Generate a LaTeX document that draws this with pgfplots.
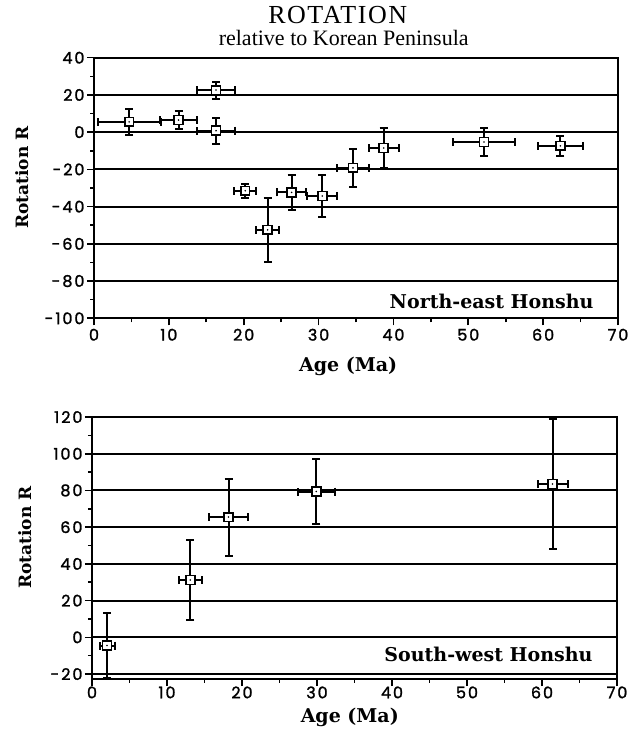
\documentclass[border=0pt]{standalone}
\usepackage{fontspec}
\setmainfont{Liberation Serif}
\newfontfamily\labfont{DejaVu Serif}
\newfontfamily\tickfont{Poppins}[LetterSpace=12,FakeBold=1.5]
\newfontfamily\titlefont{Liberation Serif}[LetterSpace=6]
\usepackage{pgfplots}
\usepackage{pgfplotstable}
\pgfplotsset{compat=1.18}

\pgfdeclareplotmark{sqdot}{%
  \pgfpathrectangle{\pgfqpoint{-\pgfplotmarksize}{-\pgfplotmarksize}}{\pgfqpoint{2\pgfplotmarksize}{2\pgfplotmarksize}}%
  \pgfusepathqfillstroke
  \begin{pgfscope}\pgfsetfillcolor{black}%
  \pgfpathcircle{\pgfpointorigin}{0.9pt}\pgfusepathqfill
  \end{pgfscope}%
}

\pgfplotstableread{
x y ex ey
4.7 5.5 4.2 7
11.3 6.5 2.5 5
16.3 22.6 2.5 4.6
16.3 0.8 2.5 7
20.2 -31.5 1.5 3.8
23.2 -52.5 1.5 17
26.4 -32.4 1.9 9.2
30.5 -34.3 2.0 11.1
34.6 -19.2 2.1 10.1
38.7 -8.5 2.0 10.6
52.1 -5.3 4.2 7.4
62.3 -7.4 3.0 5.3
}\NE

\pgfplotstableread{
x y ex ey
2.0 -4.5 1.0 17.7
13.1 31.2 1.5 22
18.2 65.5 2.55 21
29.9 79.4 2.5 17.7
61.4 83.5 2.0 35.5
}\SW

\pgfplotsset{
  myaxis/.style={
    scale only axis,
    anchor=south west,
    xmin=0, xmax=70,
    xtick={0,10,...,70},
    minor x tick num=1,
    minor y tick num=1,
    tick pos=left,
    tick align=outside,
    major tick length=7pt,
    minor tick length=4pt,
    every tick/.style={black, line width=1.6pt},
    axis line style={black, line width=2.2pt},
    ymajorgrids=true,
    major grid style={black, line width=1.9pt},
    /pgf/number format/assume math mode=true,
    ticklabel style={font=\tickfont\fontsize{16}{18}\selectfont},
    yticklabel style={xshift=1pt},
    xlabel style={font=\labfont\bfseries\fontsize{19}{22}\selectfont},
    ylabel style={font=\labfont\bfseries\fontsize{17}{20}\selectfont},
    xlabel={Age (Ma)},
    ylabel={Rotation R},
  },
  ebars/.style={
    only marks, mark=none,
    error bars/.cd,
      x dir=both, x explicit,
      y dir=both, y explicit,
      error bar style={black, line width=2pt},
      error mark options={rotate=90, black, mark size=4pt, line width=2pt},
  },
  pts/.style={
    only marks, mark=sqdot,
    mark options={draw=black, fill=white, line width=1.7pt, mark size=4.4pt},
  },
}

\begin{document}
\begin{tikzpicture}
\useasboundingbox (0,0) rectangle (629pt,730pt);
\node[anchor=base, inner sep=0pt, font=\titlefont\fontsize{26}{30}\selectfont] at (337.7pt,706pt) {ROTATION};
\node[anchor=base, inner sep=0pt, font=\fontsize{22}{25}\selectfont] at (343.7pt,684pt) {relative to Korean Peninsula};

\begin{axis}[myaxis,
  at={(94pt,411.7pt)}, width=524pt, height=260.6pt,
  ymin=-100, ymax=40, ytick={-100,-80,...,40},
  xlabel style={at={(axis description cs:0.485,0)}, anchor=base, yshift=-53.7pt},
  ylabel style={at={(axis description cs:-0.138,0.54)}, anchor=center},
]
\addplot[ebars] table[x=x, y=y, x error=ex, y error=ey] {\NE};
\addplot[pts] table[x=x, y=y] {\NE};
\node[anchor=base east, font=\labfont\bfseries\fontsize{19}{22}\selectfont] at (axis cs:67.2,-95) {North-east Honshu};
\end{axis}

\begin{axis}[myaxis,
  at={(92pt,51pt)}, width=525pt, height=262pt,
  ymin=-22.7, ymax=120, ytick={-20,0,...,120},
  xlabel style={at={(axis description cs:0.491,0)}, anchor=base, yshift=-43pt},
  ylabel style={at={(axis description cs:-0.128,0.54)}, anchor=center},
  xticklabel style={yshift=3pt},
]
\addplot[ebars] table[x=x, y=y, x error=ex, y error=ey] {\SW};
\addplot[pts] table[x=x, y=y] {\SW};
\node[anchor=base east, font=\labfont\bfseries\fontsize{19}{22}\selectfont] at (axis cs:67.2,-13.2) {South-west Honshu};
\end{axis}
\end{tikzpicture}
\end{document}
